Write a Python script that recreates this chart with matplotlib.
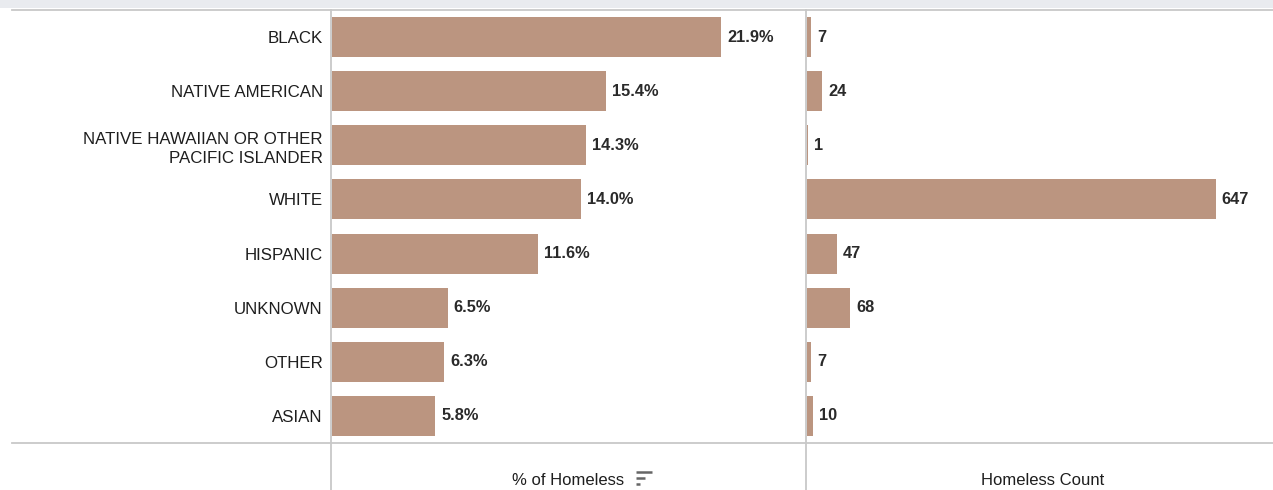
import matplotlib
matplotlib.use("Agg")
import matplotlib.pyplot as plt
from matplotlib.lines import Line2D
from matplotlib.patches import Rectangle

plt.rcParams['font.family'] = ['Liberation Sans', 'DejaVu Sans']

categories = ["BLACK", "NATIVE AMERICAN", "NATIVE HAWAIIAN OR OTHER\nPACIFIC ISLANDER",
              "WHITE", "HISPANIC", "UNKNOWN", "OTHER", "ASIAN"]
pct_homeless = [21.9, 15.4, 14.3, 14.0, 11.6, 6.5, 6.3, 5.8]
homeless_count = [7, 24, 1, 647, 47, 68, 7, 10]
pct_labels = ["21.9%", "15.4%", "14.3%", "14.0%", "11.6%", "6.5%", "6.3%", "5.8%"]
axis_titles = ["% of Homeless", "Homeless Count"]

W, H = 1273, 490
fig = plt.figure(figsize=(W / 100, H / 100), dpi=100)
fig.patch.set_facecolor("white")

bar_color = "#bb9580"
grid_color = "#c8c8c8"
text_color = "#1e1e1e"
value_color = "#2a2a2a"

def fx(px):
    return px / W

def fy(py):
    return 1 - py / H

top, bottom = 10, 443
x0, x1, x2 = 331, 806, 1273

ax1 = fig.add_axes([fx(x0), fy(bottom), fx(x1 - x0), (bottom - top) / H])
ax2 = fig.add_axes([fx(x1), fy(bottom), fx(x2 - x1), (bottom - top) / H])

ypos = list(range(len(categories)))
ax1.barh(ypos, pct_homeless, height=0.74, color=bar_color, left=0.05)
ax2.barh(ypos, homeless_count, height=0.74, color=bar_color, left=1.5)

ax1.set_xlim(0, 26.7)
ax2.set_xlim(0, 739)
for ax in (ax1, ax2):
    ax.set_ylim(len(categories) - 0.5, -0.5)
    for s in ax.spines.values():
        s.set_visible(False)
    ax.set_xticks([])
    ax.tick_params(axis='y', length=0)
    ax.patch.set_alpha(0)

ax1.set_yticks(ypos)
ax1.set_yticklabels(categories, fontsize=12.2, color=text_color, linespacing=1.32)
ax1.tick_params(axis='y', pad=6)
for lab in ax1.get_yticklabels():
    lab.set_horizontalalignment('right')
    lab.set_multialignment('right')
ax2.set_yticks([])

for i, (v, lab) in enumerate(zip(pct_homeless, pct_labels)):
    ax1.annotate(lab, (v, i), xytext=(5, 0), textcoords='offset points',
                 va='center', ha='left', fontsize=11.8, color=value_color,
                 fontweight='bold')
for i, v in enumerate(homeless_count):
    ax2.annotate(str(v), (v, i), xytext=(5, 0), textcoords='offset points',
                 va='center', ha='left', fontsize=11.8, color=value_color,
                 fontweight='bold')

# Frame lines and top band
fig.add_artist(Rectangle((0, fy(8)), 1, 8 / H, transform=fig.transFigure,
                         facecolor="#e9ebef", edgecolor='none'))
fig.add_artist(Line2D([fx(12), 1], [fy(top), fy(top)], color=grid_color, lw=1.3))
fig.add_artist(Line2D([fx(12), 1], [fy(bottom), fy(bottom)], color=grid_color, lw=1.3))
for xp in (x0, x1):
    fig.add_artist(Line2D([fx(xp), fx(xp)], [fy(top), 0], color=grid_color, lw=1.3))

# Axis titles
fig.text(fx(568), fy(480), axis_titles[0], ha='center', va='center',
         fontsize=12, color=text_color)
fig.text(fx(1043), fy(480), axis_titles[1], ha='center', va='center',
         fontsize=12, color=text_color)

# Sort icon
for k, ln in enumerate([16, 9, 4]):
    yy = fy(472 + k * 6)
    fig.add_artist(Line2D([fx(636), fx(636 + ln)], [yy, yy], color="#666666", lw=1.8,
                          solid_capstyle='butt'))

fig.savefig("out.png", dpi=100)
